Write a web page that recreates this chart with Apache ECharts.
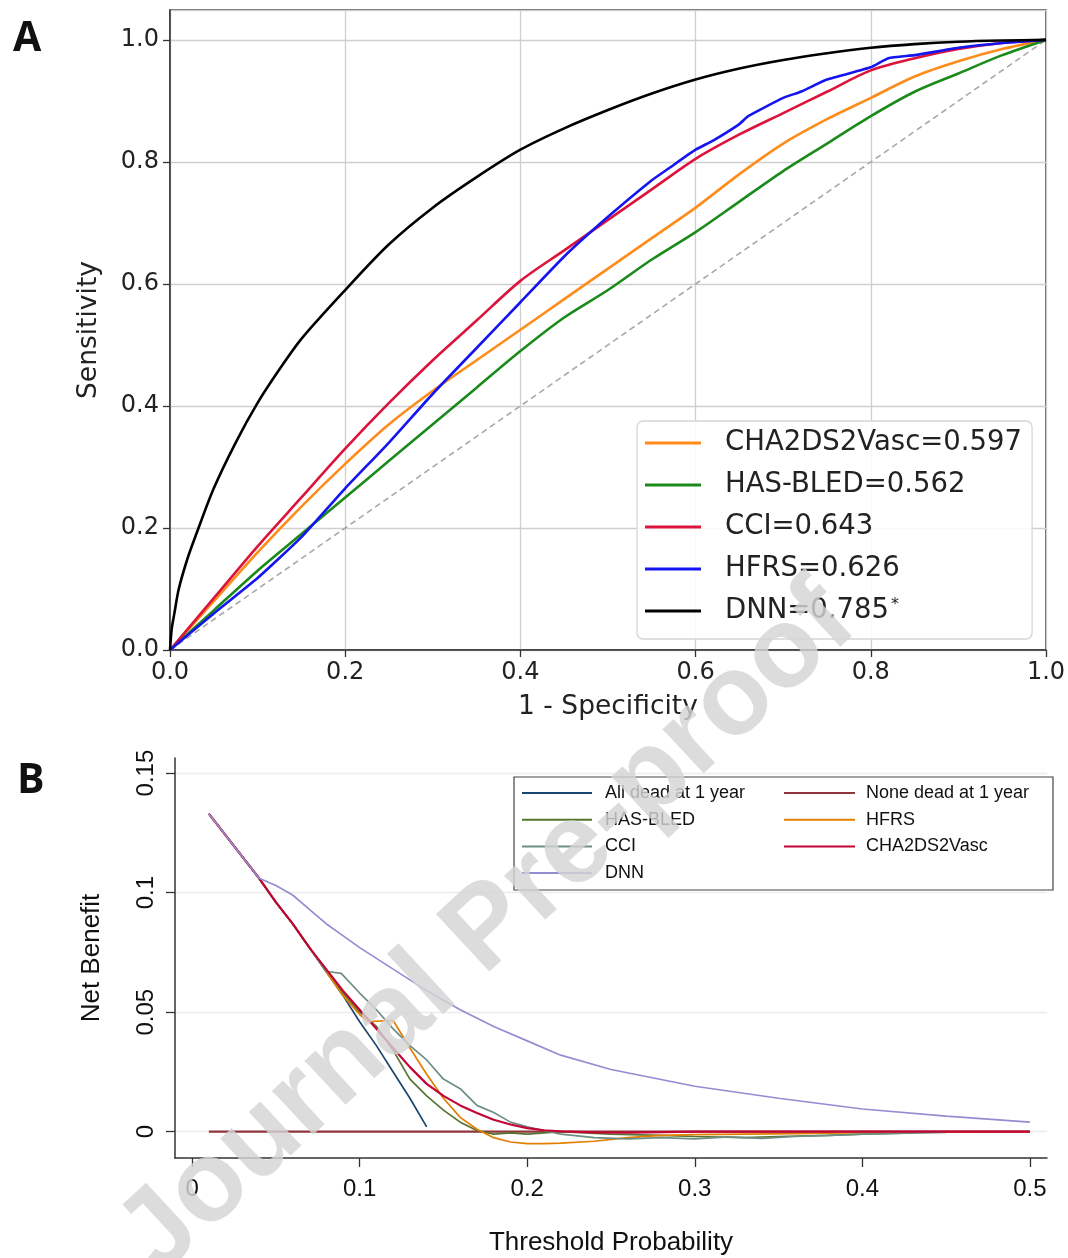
<!DOCTYPE html>
<html><head><meta charset="utf-8">
<script src="https://cdn.jsdelivr.net/npm/echarts@6/dist/echarts.min.js"></script>
<style>html,body{margin:0;padding:0;background:#fff}#c{width:1068px;height:1258px}</style>
</head><body><div id="c"></div>
<script>
// ---------- Panel A: ROC curves ----------
const rocFpr  = [0,0.05,0.1,0.15,0.2,0.25,0.3,0.35,0.4,0.45,0.5,0.55,0.6,0.65,0.7,0.75,0.8,0.85,0.9,0.95,1];
const rocCha  = [0,0.08,0.16,0.235,0.305,0.37,0.425,0.475,0.525,0.575,0.625,0.675,0.725,0.78,0.83,0.87,0.905,0.94,0.965,0.985,1];
const rocHas  = [0,0.065,0.13,0.19,0.25,0.31,0.37,0.43,0.49,0.545,0.59,0.64,0.685,0.735,0.785,0.83,0.875,0.915,0.945,0.975,1];
const rocCci  = [0,0.085,0.17,0.25,0.33,0.405,0.475,0.54,0.605,0.655,0.705,0.755,0.805,0.845,0.88,0.915,0.95,0.97,0.985,0.995,1];
const hfrsFpr = [0,0.05,0.1,0.15,0.2,0.25,0.3,0.35,0.4,0.45,0.5,0.55,0.57,0.6,0.62,0.65,0.66,0.7,0.72,0.75,0.8,0.82,0.85,0.9,0.95,1];
const rocHfrs = [0,0.06,0.118,0.185,0.265,0.34,0.42,0.495,0.57,0.645,0.71,0.77,0.79,0.82,0.835,0.862,0.875,0.905,0.915,0.935,0.955,0.97,0.975,0.987,0.995,1];
const dnnFpr  = [0,0.002,0.005,0.01,0.02,0.03,0.05,0.075,0.1,0.125,0.15,0.2,0.25,0.3,0.35,0.4,0.45,0.5,0.55,0.6,0.65,0.7,0.75,0.8,0.85,0.9,0.95,1];
const rocDnn  = [0,0.035,0.06,0.1,0.15,0.19,0.265,0.34,0.405,0.46,0.51,0.59,0.665,0.725,0.775,0.82,0.855,0.885,0.912,0.935,0.953,0.967,0.978,0.987,0.993,0.997,0.999,1];
const chanceX = [0,1];
const chanceY = [0,1];
const rocNames = ['CHA2DS2Vasc=0.597','HAS-BLED=0.562','CCI=0.643','HFRS=0.626','DNN=0.785'];

// ---------- Panel B: decision curves ----------
const allDeadX = [0.01,0.02,0.03,0.04,0.05,0.06,0.07,0.08,0.09,0.1,0.11,0.12,0.13,0.14];
const allDeadY = [0.133,0.124,0.115,0.106,0.096,0.087,0.077,0.067,0.057,0.046,0.036,0.025,0.014,0.002];
const noneDeadX = [0.01,0.5];
const noneDeadY = [0,0];
const hbX = [0.01,0.02,0.03,0.04,0.05,0.06,0.07,0.08,0.09,0.1,0.11,0.12,0.13,0.14,0.15,0.16,0.17,0.18,0.19,0.2,0.22,0.25,0.28,0.3,0.33,0.35,0.38,0.4,0.43];
const hbY = [0.133,0.124,0.115,0.106,0.096,0.087,0.077,0.067,0.058,0.05,0.044,0.034,0.022,0.015,0.009,0.004,0.0005,-0.001,-0.0005,-0.001,0,-0.001,-0.0015,-0.002,-0.0025,-0.002,-0.0015,-0.001,-0.0005];
const hfrsX = [0.01,0.02,0.03,0.04,0.05,0.06,0.07,0.08,0.09,0.1,0.105,0.12,0.13,0.14,0.15,0.16,0.17,0.18,0.19,0.2,0.21,0.22,0.24,0.26,0.28,0.3,0.33,0.36,0.4,0.45,0.5];
const hfrsY = [0.133,0.124,0.115,0.106,0.096,0.087,0.077,0.067,0.057,0.049,0.046,0.0465,0.035,0.024,0.014,0.006,0.001,-0.0025,-0.0043,-0.005,-0.005,-0.0048,-0.004,-0.0025,-0.0015,-0.0012,-0.001,-0.0008,-0.0004,-0.0002,0];
const cciX = [0.01,0.02,0.03,0.04,0.05,0.06,0.07,0.08,0.083,0.089,0.1,0.11,0.12,0.13,0.14,0.15,0.16,0.17,0.18,0.19,0.2,0.21,0.22,0.24,0.26,0.28,0.3,0.32,0.34,0.36,0.38,0.4,0.42,0.45];
const cciY = [0.133,0.124,0.115,0.106,0.096,0.087,0.077,0.067,0.0668,0.0662,0.058,0.051,0.043,0.036,0.03,0.022,0.018,0.011,0.008,0.004,0.002,0.0005,-0.001,-0.0025,-0.003,-0.0025,-0.003,-0.0022,-0.0028,-0.002,-0.0015,-0.001,-0.0007,-0.0003];
const chaX = [0.01,0.02,0.03,0.04,0.05,0.06,0.07,0.08,0.09,0.1,0.11,0.12,0.13,0.14,0.15,0.16,0.17,0.18,0.19,0.2,0.21,0.22,0.24,0.26,0.28,0.3,0.4,0.5];
const chaY = [0.133,0.124,0.115,0.106,0.096,0.087,0.077,0.068,0.059,0.051,0.043,0.035,0.027,0.02,0.015,0.011,0.0078,0.005,0.003,0.0015,0.0006,0.0001,-0.0003,-0.0004,-0.0002,0,0,0];
const dnnBX = [0.01,0.02,0.03,0.04,0.05,0.06,0.07,0.08,0.09,0.1,0.12,0.14,0.16,0.18,0.2,0.22,0.25,0.3,0.35,0.4,0.45,0.5];
const dnnBY = [0.133,0.124,0.115,0.106,0.103,0.099,0.093,0.087,0.082,0.077,0.068,0.059,0.051,0.044,0.038,0.032,0.026,0.019,0.014,0.0095,0.0065,0.004];
const dcaNames = ['All dead at 1 year','None dead at 1 year','HAS-BLED','HFRS','CCI','CHA2DS2Vasc','DNN'];
const dcaXTicks = [0,0.1,0.2,0.3,0.4,0.5];
const dcaYTicks = [0,0.05,0.1,0.15];

const zip = (xs, ys) => xs.map((x, i) => [x, ys[i]]);

const rocColors = ['#ff8c1a','#1a8a1a','#dc143c','#1515f0','#000000'];
const dcaColors = ['#1a476f','#90353b','#55752f','#e37e00','#6e8e84','#c10534','#938dd2'];

const rocSeries = [
  {name: rocNames[0], d: zip(rocFpr, rocCha)},
  {name: rocNames[1], d: zip(rocFpr, rocHas)},
  {name: rocNames[2], d: zip(rocFpr, rocCci)},
  {name: rocNames[3], d: zip(hfrsFpr, rocHfrs)},
  {name: rocNames[4], d: zip(dnnFpr, rocDnn)}
].map((s, i) => ({
  name: s.name, type: 'line', xAxisIndex: 0, yAxisIndex: 0, data: s.d,
  showSymbol: false, smooth: (i === 3 ? 0.15 : 0.3), color: rocColors[i],
  lineStyle: {color: rocColors[i], width: 2.6}, z: 3 + i, animation: false
}));

const dcaData = [zip(allDeadX, allDeadY), zip(noneDeadX, noneDeadY), zip(hbX, hbY), zip(hfrsX, hfrsY), zip(cciX, cciY), zip(chaX, chaY), zip(dnnBX, dnnBY)];
const dcaSeries = dcaNames.map((n, i) => ({
  name: n, type: 'line', xAxisIndex: 1, yAxisIndex: 1, data: dcaData[i],
  showSymbol: false, color: dcaColors[i],
  lineStyle: {color: dcaColors[i], width: (i === 1 || i === 5) ? 2.2 : 1.7}, z: 3 + i, animation: false
}));

const chart = echarts.init(document.getElementById('c'), null, {renderer: 'canvas'});
const axisCol = '#333';
chart.setOption({
  animation: false,
  backgroundColor: '#fff',
  grid: [
    {left: 170, right: 22, top: 10, bottom: 608, show: true, borderColor: '#333', borderWidth: 1.5, outerBoundsMode: 'none'},
    {left: 175, right: 21, top: 758, bottom: 100, outerBoundsMode: 'none'}
  ],
  xAxis: [
    {gridIndex: 0, type: 'value', min: 0, max: 1, interval: 0.2,
     name: '1 - Specificity', nameLocation: 'middle', nameGap: 44,
     nameTextStyle: {fontFamily: 'DejaVu Sans', fontSize: 26.5, color: '#222'},
     axisLine: {show: true, lineStyle: {color: axisCol, width: 1.5}},
     axisTick: {show: true, length: 7, lineStyle: {color: axisCol, width: 1.3}},
     axisLabel: {fontFamily: 'DejaVu Sans', fontSize: 24, color: '#222', margin: 11, formatter: v => v.toFixed(1)},
     splitLine: {show: true, lineStyle: {color: '#cfcfcf', width: 1.3}}},
    {gridIndex: 1, type: 'value', min: -0.0102, max: 0.5102,
     name: 'Threshold Probability', nameLocation: 'middle', nameGap: 72,
     nameTextStyle: {fontFamily: 'Liberation Sans', fontSize: 26, color: '#111'},
     axisLine: {show: true, onZero: false, lineStyle: {color: axisCol, width: 1.5}},
     axisTick: {show: true, length: 9, customValues: dcaXTicks, lineStyle: {color: axisCol, width: 1.3}},
     axisLabel: {fontFamily: 'Liberation Sans', fontSize: 24, color: '#111', margin: 19, customValues: dcaXTicks,
                 formatter: v => (Math.abs(v) < 1e-9 ? '0' : String(Math.round(v * 10) / 10))},
     splitLine: {show: false}}
  ],
  yAxis: [
    {gridIndex: 0, type: 'value', min: 0, max: 1.049, interval: 0.2,
     name: 'Sensitivity', nameLocation: 'middle', nameGap: 67,
     nameTextStyle: {fontFamily: 'DejaVu Sans', fontSize: 26.5, color: '#222'},
     axisLine: {show: true, lineStyle: {color: axisCol, width: 1.5}},
     axisTick: {show: true, length: 7, lineStyle: {color: axisCol, width: 1.3}},
     axisLabel: {fontFamily: 'DejaVu Sans', fontSize: 24, color: '#222', margin: 11, showMaxLabel: false, formatter: v => v.toFixed(1)},
     splitLine: {show: true, lineStyle: {color: '#cfcfcf', width: 1.3}}},
    {gridIndex: 1, type: 'value', min: -0.011, max: 0.1563,
     name: 'Net Benefit', nameLocation: 'middle', nameGap: 70,
     nameTextStyle: {fontFamily: 'Liberation Sans', fontSize: 26, color: '#111'},
     axisLine: {show: true, onZero: false, lineStyle: {color: axisCol, width: 1.5}},
     axisTick: {show: true, length: 9, customValues: dcaYTicks, lineStyle: {color: axisCol, width: 1.3}},
     axisLabel: {fontFamily: 'Liberation Sans', fontSize: 24, color: '#111', margin: 17, rotate: 90, customValues: dcaYTicks,
                 formatter: v => (Math.abs(v) < 1e-9 ? '0' : String(Math.round(v * 100) / 100))},
     splitLine: {show: true, lineStyle: {color: '#ececec', width: 1.3}}}
  ],
  legend: [
    {data: rocNames, orient: 'vertical', left: 637, top: 421, padding: [8, 10, 14, 8], itemGap: 14,
     itemWidth: 56, itemHeight: 3, icon: 'rect', selectedMode: false,
     backgroundColor: 'rgba(255,255,255,0.85)', borderColor: '#d6d6d6', borderWidth: 1.3, borderRadius: 6,
     formatter: n => (n === 'DNN=0.785' ? 'DNN=0.785{sup|*}' : n),
     textStyle: {fontFamily: 'DejaVu Sans', fontSize: 27.5, color: '#222', padding: [0, 0, 0, 19],
                 rich: {sup: {fontFamily: 'DejaVu Sans', fontSize: 16, color: '#222', verticalAlign: 'top', padding: [0, 0, 12, 2]}}}},
    {data: ['All dead at 1 year','HAS-BLED','CCI','DNN'], orient: 'vertical', left: 522, top: 784, padding: 0, itemGap: 8.7,
     itemWidth: 70, itemHeight: 2, icon: 'rect', selectedMode: false,
     textStyle: {fontFamily: 'Liberation Sans', fontSize: 18, color: '#111', padding: [0, 0, 0, 8]}},
    {data: ['None dead at 1 year','HFRS','CHA2DS2Vasc'], orient: 'vertical', left: 784, top: 784, padding: 0, itemGap: 8.7,
     itemWidth: 71, itemHeight: 2, icon: 'rect', selectedMode: false,
     textStyle: {fontFamily: 'Liberation Sans', fontSize: 18, color: '#111', padding: [0, 0, 0, 6]}}
  ],
  graphic: [
    {type: 'text', x: 13, y: 39, z: 10, style: {text: 'A', font: 'bold 41px "Open Sans", "DejaVu Sans", sans-serif', fill: '#111', verticalAlign: 'middle'}},
    {type: 'text', x: 17, y: 781, z: 10, style: {text: 'B', font: 'bold 41px "Open Sans", "DejaVu Sans", sans-serif', fill: '#111', verticalAlign: 'middle'}},
    {type: 'rect', z: 1, shape: {x: 514, y: 777, width: 539, height: 113}, style: {fill: 'none', stroke: '#444', lineWidth: 1.2}},
    {type: 'text', x: 488, y: 930, z: 100, rotation: 0.747,
     style: {text: 'Journal Pre-proof', font: 'bold 114px "Liberation Sans", Arial, sans-serif', fill: 'rgba(212,212,212,0.82)', align: 'center', verticalAlign: 'middle'}}
  ],
  series: [
    {name: 'chance', type: 'line', xAxisIndex: 0, yAxisIndex: 0, data: zip(chanceX, chanceY), showSymbol: false,
     lineStyle: {color: '#a8a8a8', width: 1.6, type: [6, 4]}, z: 2, silent: true}
  ].concat(rocSeries, dcaSeries)
});
</script></body></html>
